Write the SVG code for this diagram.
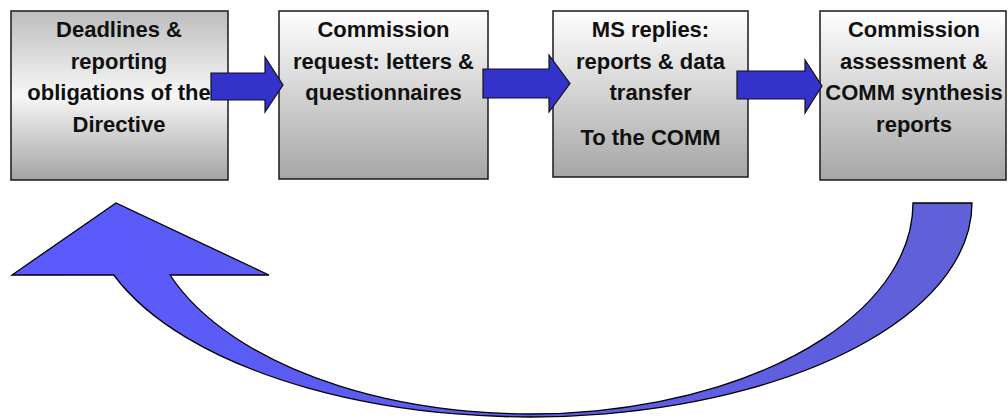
<svg xmlns="http://www.w3.org/2000/svg" width="1008" height="418" viewBox="0 0 1008 418">
<defs>
<linearGradient id="g1" x1="0" y1="0" x2="0" y2="1">
<stop offset="0" stop-color="#bdbdbd"/>
<stop offset="0.5" stop-color="#f7f7f7"/>
<stop offset="1" stop-color="#a4a4a4"/>
</linearGradient>
<linearGradient id="g2" x1="0" y1="0" x2="0" y2="1">
<stop offset="0" stop-color="#ffffff"/>
<stop offset="1" stop-color="#a6a6a6"/>
</linearGradient>
<linearGradient id="gc" gradientUnits="userSpaceOnUse" x1="12" y1="0" x2="972" y2="0">
<stop offset="0" stop-color="#5a5aff"/>
<stop offset="1" stop-color="#6060d8"/>
</linearGradient>
</defs>
<style>
.box{stroke:#1a1a1a;stroke-width:1.5}
.t{font-family:"Liberation Sans",Arial,sans-serif;font-weight:bold;font-size:22px;fill:#111;text-anchor:middle}
.ba{fill:#3333cc;stroke:#111;stroke-width:1.2;stroke-linejoin:miter}
.ca{fill:url(#gc);stroke:#000;stroke-width:1.3;stroke-linejoin:miter}
</style>
<rect width="1008" height="418" fill="#ffffff"/>
<g id="node1">
<rect class="box" x="11" y="11" width="217" height="169" fill="url(#g1)"/>
<text class="t" x="119" y="37">Deadlines &amp;</text>
<text class="t" x="119" y="68.5">reporting</text>
<text class="t" x="119" y="100">obligations of the</text>
<text class="t" x="119" y="132">Directive</text>
</g>
<g id="node2">
<rect class="box" x="279" y="11" width="209" height="168" fill="url(#g2)"/>
<text class="t" x="383.5" y="37">Commission</text>
<text class="t" x="383.5" y="68.5">request: letters &amp;</text>
<text class="t" x="383.5" y="100">questionnaires</text>
</g>
<g id="node3">
<rect class="box" x="553" y="11" width="195" height="166" fill="url(#g2)"/>
<text class="t" x="650.5" y="37">MS replies:</text>
<text class="t" x="650.5" y="68.5">reports &amp; data</text>
<text class="t" x="650.5" y="100">transfer</text>
<text class="t" x="650.5" y="145">To the COMM</text>
</g>
<g id="node4">
<rect class="box" x="820" y="11" width="186" height="169" fill="url(#g2)"/>
<text class="t" x="914" y="37">Commission</text>
<text class="t" x="914" y="68.5">assessment &amp;</text>
<text class="t" x="914" y="100">COMM synthesis</text>
<text class="t" x="914" y="132">reports</text>
</g>
<g id="connectors">
<path class="ba" d="M211,73 H265 V57 L283,85 L265,112 V100 H211 Z"/>
<path class="ba" d="M483,69 H549 V55 L570,83.5 L549,112 V98 H483 Z"/>
<path class="ba" d="M737,71 H805 V60 L822,86 L805,113 V99 H737 Z"/>
<path class="ca" d="M972,203 A442,214 0 0 1 113.8,275 L12,275 L116,203 L269,275 L170,275 A383,211 0 0 0 913,203 Z"/>
</g>
</svg>
